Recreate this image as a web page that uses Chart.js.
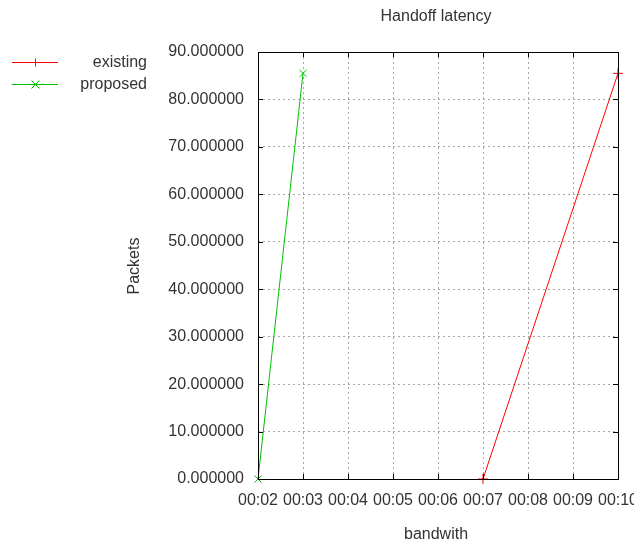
<!DOCTYPE html>
<html>
<head>
<meta charset="utf-8">
<script src="https://cdn.jsdelivr.net/npm/chart.js@4/dist/chart.umd.min.js"></script>
<style>
  html, body { margin: 0; padding: 0; background: #fff; }
  canvas { display: block; }
</style>
</head>
<body>
<canvas id="grafico" width="634" height="544"></canvas>
<script>
// dados (tempo em mm:ss, pacotes)
const existingX = ["00:07", "00:10"];
const existingY = [0, 85.5];
const proposedX = ["00:02", "00:03"];
const proposedY = [0, 85.5];
const seriesNames = ["existing", "proposed"];
const xTickLabels = ["00:02", "00:03", "00:04", "00:05", "00:06", "00:07", "00:08", "00:09", "00:10"];
const yTicks = [0, 10, 20, 30, 40, 50, 60, 70, 80, 90];

const CORES = { existing: "#ff0000", proposed: "#00c000", texto: "#333333", grade: "#a8a8a8" };
const FONTE = '"Liberation Sans", Arial, sans-serif';

function minutos(s) {
  const [m, ss] = s.split(":").map(Number);
  return m + ss / 60;
}
function pontos(xs, ys) {
  return xs.map((x, i) => ({ x: minutos(x), y: ys[i] }));
}

// moldura, tiques internos, título, rótulos dos eixos e legenda estilo gnuplot
const moldura = {
  id: "moldura",
  afterDraw(chart) {
    const { ctx, chartArea: a, scales } = chart;
    ctx.save();
    ctx.strokeStyle = "#000";
    ctx.lineWidth = 1;
    ctx.beginPath();
    scales.x.ticks.forEach((t) => {
      const px = Math.round(scales.x.getPixelForValue(t.value)) + 0.5;
      ctx.moveTo(px, a.bottom); ctx.lineTo(px, a.bottom - 5);
      ctx.moveTo(px, a.top); ctx.lineTo(px, a.top + 5);
    });
    scales.y.ticks.forEach((t) => {
      const py = Math.round(scales.y.getPixelForValue(t.value)) + 0.5;
      ctx.moveTo(a.left, py); ctx.lineTo(a.left + 5, py);
      ctx.moveTo(a.right, py); ctx.lineTo(a.right - 5, py);
    });
    ctx.stroke();
    ctx.strokeRect(Math.round(a.left) + 0.5, Math.round(a.top) + 0.5,
      Math.round(a.right - a.left), Math.round(a.bottom - a.top));

    ctx.fillStyle = CORES.texto;
    ctx.font = "16px " + FONTE;
    ctx.textAlign = "center";
    ctx.textBaseline = "middle";
    ctx.fillText("Handoff latency", 436, 17);
    ctx.fillText("bandwith", 436, 535);
    ctx.save();
    ctx.translate(135, 266);
    ctx.rotate(-Math.PI / 2);
    ctx.fillText("Packets", 0, 0);
    ctx.restore();

    // legenda
    chart.data.datasets.forEach((ds, i) => {
      const y = 62.5 + i * 22;
      ctx.strokeStyle = ds.borderColor;
      ctx.beginPath();
      ctx.moveTo(12, y); ctx.lineTo(58, y);
      const mx = 35.5, r = 4;
      if (ds.pointStyle === "cross") {
        ctx.moveTo(mx, y - r); ctx.lineTo(mx, y + r);
      } else {
        ctx.moveTo(mx - r, y - r); ctx.lineTo(mx + r, y + r);
        ctx.moveTo(mx - r, y + r); ctx.lineTo(mx + r, y - r);
      }
      ctx.stroke();
      ctx.fillStyle = CORES.texto;
      ctx.textAlign = "right";
      ctx.fillText(ds.label, 147, y);
    });
    ctx.restore();
  },
};

new Chart(document.getElementById("grafico"), {
  type: "line",
  data: {
    datasets: [
      {
        label: seriesNames[0], data: pontos(existingX, existingY),
        borderColor: CORES.existing, backgroundColor: CORES.existing,
        borderWidth: 1, pointStyle: "cross", pointRadius: 5, pointBorderWidth: 1,
        tension: 0, fill: false,
      },
      {
        label: seriesNames[1], data: pontos(proposedX, proposedY),
        borderColor: CORES.proposed, backgroundColor: CORES.proposed,
        borderWidth: 1, pointStyle: "crossRot", pointRadius: 5, pointBorderWidth: 1,
        tension: 0, fill: false,
      },
    ],
  },
  options: {
    responsive: false,
    animation: false,
    clip: false,
    layout: { padding: { top: 52, right: 16, left: 0, bottom: 0 } },
    plugins: { legend: { display: false }, title: { display: false }, tooltip: { enabled: false } },
    scales: {
      x: {
        type: "linear",
        min: minutos(xTickLabels[0]),
        max: minutos(xTickLabels[xTickLabels.length - 1]),
        afterBuildTicks: (s) => { s.ticks = xTickLabels.map((l) => ({ value: minutos(l) })); },
        afterFit: (s) => { s.height = 65; s.paddingLeft = 0; s.paddingRight = 0; },
        ticks: {
          color: CORES.texto, font: { family: FONTE, size: 16 }, padding: 12,
          maxRotation: 0, autoSkip: false,
          callback: (v, i) => xTickLabels[i],
        },
        grid: { color: CORES.grade, drawTicks: false, lineWidth: 1 },
        border: { display: false, dash: [2, 3] },
      },
      y: {
        min: yTicks[0],
        max: yTicks[yTicks.length - 1],
        afterBuildTicks: (s) => { s.ticks = yTicks.map((v) => ({ value: v })); },
        afterFit: (s) => { s.width = 258; },
        ticks: {
          color: CORES.texto, font: { family: FONTE, size: 16 }, padding: 14,
          callback: (v) => Number(v).toFixed(6),
        },
        grid: { color: CORES.grade, drawTicks: false, lineWidth: 1 },
        border: { display: false, dash: [2, 3] },
      },
    },
  },
  plugins: [moldura],
});
</script>
</body>
</html>
